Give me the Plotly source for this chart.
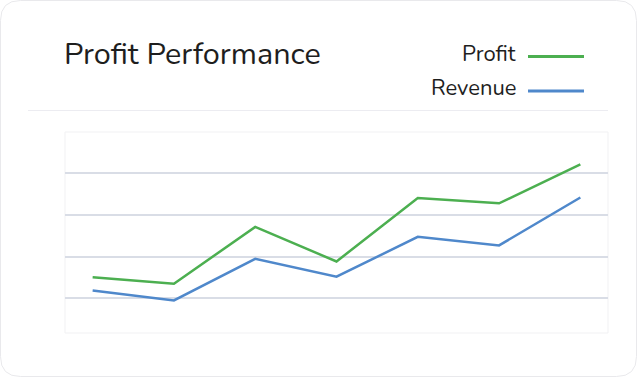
import plotly.graph_objects as go

# ---- data ----
categories = ["Jan", "Feb", "Mar", "Apr", "May", "Jun", "Jul"]
profit = [30.1, 27.0, 54.3, 37.7, 68.1, 65.6, 84.3]
revenue = [23.8, 19.0, 39.0, 30.4, 49.5, 45.4, 68.4]
series_names = ["Profit", "Revenue"]
series_colors = ["#4CAF50", "#4F88CB"]

W, H = 638, 378
ML, MR, MT, MB = 65, 30, 132, 45
PW, PH = W - ML - MR, H - MT - MB
FONT = "Nunito, 'Open Sans', sans-serif"


def px(x):
    return (x - ML) / PW


def py(y):
    return (H - MB - y) / PH


fig = go.Figure()
for name, vals, col in zip(series_names, [profit, revenue], series_colors):
    fig.add_trace(go.Scatter(
        x=list(range(len(categories))), y=vals, mode="lines", name=name,
        line=dict(color=col, width=2.5), hoverinfo="skip"))

# card with rounded corners
x0, y0, x1, y1, r = 0.5, 0.5, 636.5, 376.5, 20
path = (f"M {px(x0 + r)},{py(y0)} L {px(x1 - r)},{py(y0)} "
        f"Q {px(x1)},{py(y0)} {px(x1)},{py(y0 + r)} "
        f"L {px(x1)},{py(y1 - r)} Q {px(x1)},{py(y1)} {px(x1 - r)},{py(y1)} "
        f"L {px(x0 + r)},{py(y1)} Q {px(x0)},{py(y1)} {px(x0)},{py(y1 - r)} "
        f"L {px(x0)},{py(y0 + r)} Q {px(x0)},{py(y0)} {px(x0 + r)},{py(y0)} Z")
shapes = [
    dict(type="path", path=path, xref="paper", yref="paper", layer="below",
         line=dict(color="#e9e9ec", width=1), fillcolor="white"),
    dict(type="line", xref="paper", yref="paper", x0=px(28), x1=px(608),
         y0=py(110.5), y1=py(110.5), line=dict(color="#ececf1", width=1)),
    dict(type="rect", xref="paper", yref="paper", x0=0, x1=1, y0=0, y1=1,
         line=dict(color="#f1f1f3", width=1), layer="below"),
]

annotations = []
for name, col, ly in zip(series_names, series_colors, [56.5, 91]):
    shapes.append(dict(type="line", xref="paper", yref="paper",
                       x0=px(528), x1=px(584), y0=py(ly), y1=py(ly),
                       line=dict(color=col, width=3)))
    annotations.append(dict(text=name, xref="paper", yref="paper",
                            x=px(518), y=py(ly - 2.5), xanchor="right",
                            yanchor="middle", showarrow=False,
                            font=dict(family=FONT, size=22, color="#1e1e1e")))

fig.update_layout(
    width=W, height=H, margin=dict(l=ML, r=MR, t=MT, b=MB),
    paper_bgcolor="white", plot_bgcolor="rgba(0,0,0,0)",
    showlegend=False, shapes=shapes, annotations=annotations,
    title=dict(text="Profit Performance", xref="container", yref="container",
               x=64 / W, y=1 - 53 / H, xanchor="left", yanchor="middle",
               font=dict(family=FONT, size=30.6, color="#1e1e1e")),
    xaxis=dict(range=[-0.34, 6.34], showgrid=False, zeroline=False,
               showticklabels=False, ticks=""),
    yaxis=dict(range=[3.4, 99.8], dtick=20, tick0=0, showgrid=True,
               gridcolor="#d9dde6", gridwidth=1.5, zeroline=False,
               showticklabels=False, ticks=""),
)

fig.write_html("out.html", config={"displayModeBar": False},
               post_script="document.body.style.margin='0';"
                           "document.body.style.overflow='hidden';")
